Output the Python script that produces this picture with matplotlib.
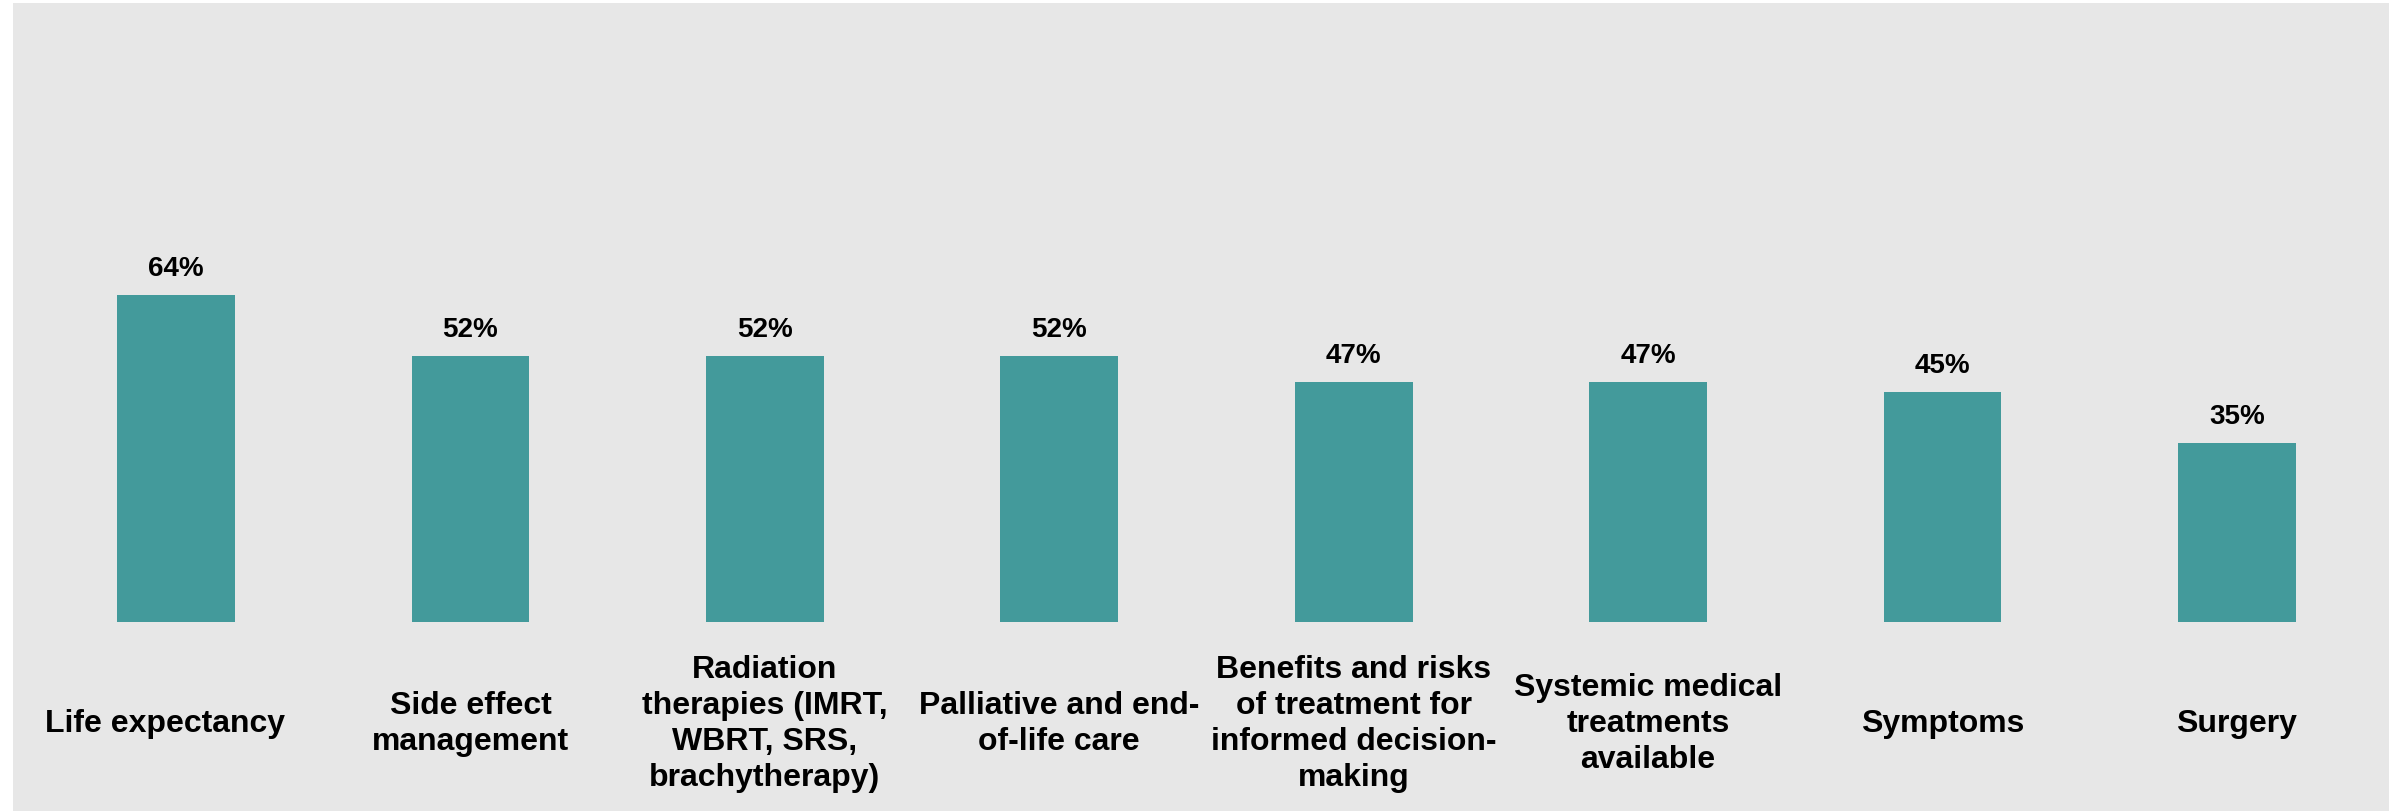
import matplotlib.pyplot as plt

# categories and values
categories = ['Life expectancy',
              'Side effect\nmanagement',
              'Radiation\ntherapies (IMRT,\nWBRT, SRS,\nbrachytherapy)',
              'Palliative and end-\nof-life care',
              'Benefits and risks\nof treatment for\ninformed decision-\nmaking',
              'Systemic medical\ntreatments\navailable',
              'Symptoms',
              'Surgery']
values = [64, 52, 52, 52, 47, 47, 45, 35]

plt.rcParams['font.family'] = ['Liberation Sans', 'DejaVu Sans']

fig = plt.figure(figsize=(23.92, 8.12), dpi=100)
fig.patch.set_facecolor('white')
ax = fig.add_axes([13/2392, 0, 2376/2392, 808/812])
ax.set_facecolor('#e7e7e7')

x = range(len(values))
ax.bar(x, values, width=0.4, color='#439a9b')

for i, v in enumerate(values):
    ax.text(i, v + 5.3, f'{v}%', ha='center', va='center',
            fontsize=20, fontweight='bold', color='black')

for i, c in enumerate(categories):
    dx = -0.036 if i == 0 else 0  # first label sits a bit left in the original
    ax.text(i + dx, -19.8, c, ha='center', va='center', fontsize=23,
            fontweight='bold', color='black', linespacing=1.25)

ax.set_xlim(-0.554, 7.517)
ax.set_ylim(-37.0, 121.1)
ax.set_xticks([])
ax.set_yticks([])
for s in ax.spines.values():
    s.set_visible(False)

fig.savefig('out.png', dpi=100, facecolor='white')
